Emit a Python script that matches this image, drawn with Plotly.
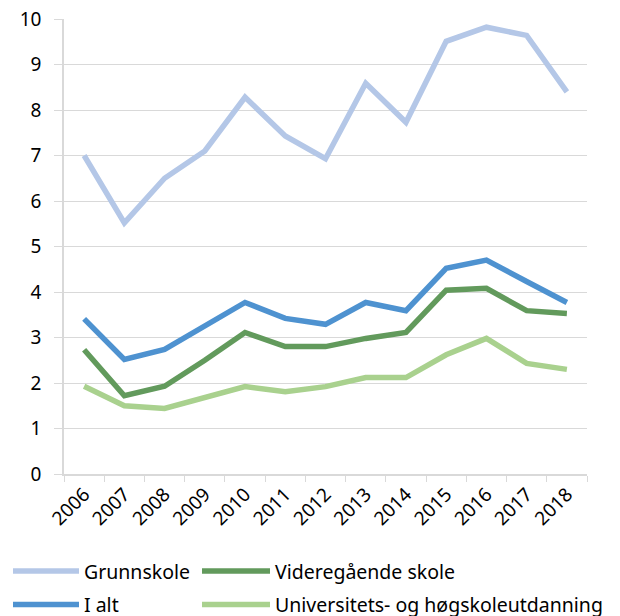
import plotly.graph_objects as go

years = ["2006", "2007", "2008", "2009", "2010", "2011", "2012", "2013", "2014", "2015", "2016", "2017", "2018"]
grunnskole = [7.0, 5.52, 6.5, 7.1, 8.28, 7.43, 6.93, 8.59, 7.73, 9.51, 9.82, 9.64, 8.4]
i_alt = [3.41, 2.52, 2.74, 3.27, 3.77, 3.42, 3.29, 3.77, 3.59, 4.52, 4.70, 4.23, 3.77]
videregaende = [2.73, 1.72, 1.93, 2.5, 3.11, 2.8, 2.8, 2.98, 3.11, 4.04, 4.08, 3.59, 3.53]
universitet = [1.93, 1.5, 1.44, 1.68, 1.92, 1.81, 1.92, 2.12, 2.12, 2.62, 2.98, 2.43, 2.3]

series = [
    ("Grunnskole", grunnskole, "#b4c7e7", "legend", "g1"),
    ("I alt", i_alt, "#4e92d0", "legend", "g2"),
    ("Videregående skole", videregaende, "#629a5c", "legend2", "g3"),
    ("Universitets- og høgskoleutdanning", universitet, "#a9d18e", "legend2", "g4"),
]

fig = go.Figure()
for name, vals, color, leg, grp in series:
    fig.add_trace(go.Scatter(
        x=years, y=vals, name=name, mode="lines",
        line=dict(color=color, width=5.5),
        legend=leg, legendgroup=grp,
    ))

W, H = 612, 608
font = dict(family="Noto Sans, Liberation Sans, sans-serif", size=19, color="#000000")
lfont = dict(family="Noto Sans, Liberation Sans, sans-serif", size=19.5, color="#000000")

fig.update_layout(
    width=W, height=H,
    margin=dict(l=56, r=33, t=11, b=142, autoexpand=False),
    paper_bgcolor="white", plot_bgcolor="white",
    font=font,
    xaxis=dict(
        type="category", range=[-0.5, 12.5],
        tickson="boundaries", ticks="outside", ticklen=6, tickcolor="#d9d9d9",
        showline=True, linecolor="#d9d9d9", linewidth=1.5,
        showgrid=False, tickangle=-45, tickfont=font, ticklabeloverflow="allow",
    ),
    yaxis=dict(
        range=[0, 10], dtick=1, ticks="outside", ticklen=8, tickcolor="#d9d9d9",
        showline=True, linecolor="#d9d9d9", linewidth=1.5,
        gridcolor="#d9d9d9", gridwidth=1.2, zeroline=False,
        tickfont=font, ticklabelstandoff=9, ticklabeloverflow="allow",
    ),
    legend=dict(
        xref="container", yref="container", x=0.0, y=0.1054, xanchor="left", yanchor="top",
        orientation="v", font=lfont, tracegroupgap=5, itemwidth=66,
        bgcolor="rgba(0,0,0,0)",
    ),
    legend2=dict(
        xref="container", yref="container", x=189 / W, y=0.1054, xanchor="left", yanchor="top",
        orientation="v", font=lfont, tracegroupgap=5, itemwidth=68,
        bgcolor="rgba(0,0,0,0)",
    ),
)

fig.write_html("out.html")
